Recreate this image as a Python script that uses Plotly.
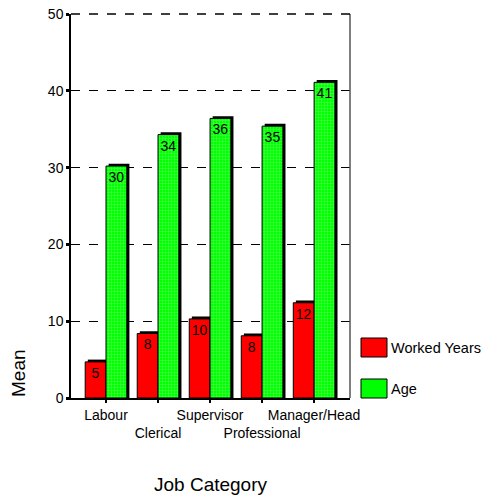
import plotly.graph_objects as go

categories = ["Labour", "Clerical", "Supervisor", "Professional", "Manager/Head"]
tick_labels = ["Labour", "<br>Clerical", "Supervisor", "<br>Professional", "Manager/Head"]
worked_years = [4.7, 8.4, 10.3, 8.1, 12.4]
age = [30.2, 34.3, 36.4, 35.4, 41.1]
y_ticks = [0, 10, 20, 30, 40, 50]

xpos = list(range(len(categories)))
BW = 0.40
SH_X = 0.05
SH_Y = 0.30
FONT = "Liberation Sans, Arial, sans-serif"

fig = go.Figure()

# shadows
fig.add_trace(go.Bar(x=xpos, y=[v + SH_Y for v in worked_years], offset=-BW + SH_X, width=BW,
                     marker=dict(color="black", line=dict(width=0)), hoverinfo="skip", showlegend=False))
fig.add_trace(go.Bar(x=xpos, y=[v + SH_Y for v in age], offset=SH_X, width=BW,
                     marker=dict(color="black", line=dict(width=0)), hoverinfo="skip", showlegend=False))

fig.add_trace(go.Bar(
    x=xpos, y=worked_years, offset=-BW, width=BW, name="Worked Years",
    marker=dict(color="#ff0000", line=dict(color="black", width=1)),
    texttemplate="%{y:.0f}", textposition="inside", insidetextanchor="end",
    textfont=dict(color="black", size=14, family=FONT), constraintext="none",
    showlegend=False))
fig.add_trace(go.Bar(
    x=xpos, y=age, offset=0, width=BW, name="Age",
    marker=dict(color="#00ff00", line=dict(color="black", width=1),
                pattern=dict(shape="+", bgcolor="#00ff00", fgcolor="#8cff8c", size=3, solidity=0.35)),
    texttemplate="%{y:.0f}", textposition="inside", insidetextanchor="end",
    textfont=dict(color="black", size=14, family=FONT), constraintext="none",
    showlegend=False))

fig.update_layout(
    width=490, height=495, barmode="overlay",
    margin=dict(l=71, r=140, t=14, b=97),
    paper_bgcolor="white", plot_bgcolor="white",
    font=dict(family=FONT, size=14, color="black"),
    showlegend=False,
    xaxis=dict(range=[-0.673, 4.69], tickmode="array", tickvals=xpos, ticktext=tick_labels,
               tickangle=0, automargin=False,
               showline=True, linecolor="black", linewidth=1.5, showgrid=False, zeroline=False,
               ticks="outside", ticklen=3, tickwidth=2, tickcolor="black",
               tickfont=dict(size=14)),
    yaxis=dict(range=[0, 50], tickmode="array", tickvals=y_ticks, automargin=False,
               showline=True, linecolor="black", linewidth=1.5,
               showgrid=True, gridcolor="black", gridwidth=1, griddash="dash", zeroline=False,
               ticks="outside", ticklen=3, tickwidth=3, tickcolor="black",
               tickfont=dict(size=14)),
)

# right border and top line
fig.add_shape(type="line", xref="paper", yref="paper", x0=1, x1=1, y0=0, y1=1,
              line=dict(color="#555555", width=1.5))
fig.add_shape(type="line", xref="paper", yref="paper", x0=0, x1=1, y0=1, y1=1,
              line=dict(color="black", width=1.5, dash="dash"))

# legend
legend_items = [("Worked Years", "#ff0000", 338), ("Age", "#00ff00", 379)]
for label, col, top in legend_items:
    fig.add_shape(type="rect", xref="paper", yref="paper",
                  x0=(361 - 71) / 279, x1=(387 - 71) / 279,
                  y0=(398 - (top + 19)) / 384, y1=(398 - top) / 384,
                  fillcolor=col, line=dict(color="black", width=1))
    fig.add_annotation(text=label, xref="paper", yref="paper",
                       x=(389 - 71) / 279, y=(398 - (top + 10)) / 384,
                       xanchor="left", yanchor="middle", showarrow=False,
                       font=dict(size=14.5))

fig.add_annotation(text="Mean", xref="paper", yref="paper", x=(18 - 71) / 279, y=(398 - 373) / 384,
                   textangle=-90, showarrow=False, xanchor="center", yanchor="middle",
                   font=dict(size=19))
fig.add_annotation(text="Job Category", xref="paper", yref="paper", x=0.5, y=(398 - 484) / 384,
                   showarrow=False, xanchor="center", yanchor="middle", font=dict(size=19))

fig.write_html("out.html")
